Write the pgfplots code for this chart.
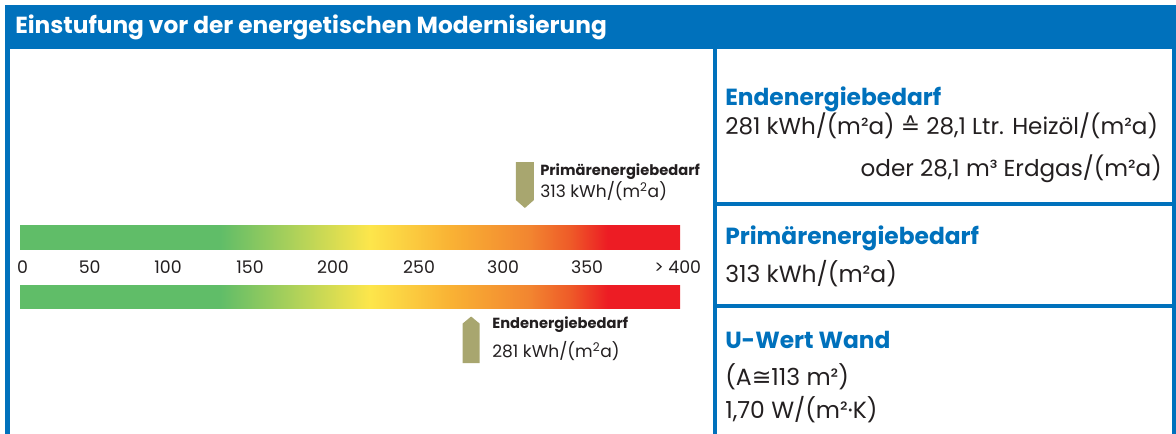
\documentclass[border=0pt]{standalone}
\usepackage{fontspec}
\usepackage{pgfplots}
\pgfplotsset{compat=1.18}
\setmainfont{Poppins}
\newfontfamily\symfont{DejaVu Sans}
\definecolor{eblue}{RGB}{0,113,188}
\definecolor{etext}{RGB}{35,31,32}
\definecolor{egreen}{RGB}{96,189,104}
\definecolor{eyellow}{RGB}{253,230,75}
\definecolor{eorangeA}{RGB}{249,178,52}
\definecolor{eorangeB}{RGB}{242,133,48}
\definecolor{eorangeC}{RGB}{238,90,40}
\definecolor{ered}{RGB}{237,28,36}
\definecolor{emark}{RGB}{168,166,111}
\pgfdeclarehorizontalshading{energy}{100bp}{color(0bp)=(egreen); color(25bp)=(egreen); color(40.15bp)=(egreen); color(51.5bp)=(eyellow); color(57.6bp)=(eorangeA); color(63.6bp)=(eorangeB); color(66.7bp)=(eorangeC); color(69.5bp)=(ered); color(75bp)=(ered); color(100bp)=(ered)}

% bar extents (scale values)
\pgfplotstableread{
x y
12.5 -48
405.4 -48
405.4 -24
12.5 -24
12.5 -48
}\upperbar
\pgfplotstableread{
x y
12.5 12
405.4 12
405.4 35
12.5 35
12.5 12
}\lowerbar

\begin{document}
\begin{tikzpicture}[x=0.75pt,y=-0.75pt]
\path[use as bounding box] (0,0) rectangle (1176,434);
% frame
\fill[eblue] (5,5) rectangle (1176,49);
\fill[eblue] (5,49) rectangle (9.5,434);
\fill[eblue] (712.5,49) rectangle (717,434);
\fill[eblue] (1172,49) rectangle (1176,434);
\fill[eblue] (717,202) rectangle (1172,206.5);
\fill[eblue] (717,303.5) rectangle (1172,308);
\node[anchor=base west, text=white, inner sep=0pt, font=\bfseries\fontsize{17.45}{20}\selectfont] at (15,33.3) {Einstufung vor der energetischen Modernisierung};

% right panel
\begin{scope}[every node/.style={inner sep=0pt}]
\node[anchor=base west, text=eblue, font=\bfseries\fontsize{17.5}{20}\selectfont] at (725,106) {Endenergiebedarf};
\node[anchor=base west, text=etext, font=\fontsize{17.3}{18}\selectfont] at (725,135) {281 kWh/(m²a) {\symfont ≙} 28,1 Ltr. Heizöl/(m²a)};
\node[anchor=base east, text=etext, font=\fontsize{17.3}{18}\selectfont] at (1162,177) {oder 28,1 m³ Erdgas/(m²a)};
\node[anchor=base west, text=eblue, font=\bfseries\fontsize{17.5}{20}\selectfont] at (725,245) {Primärenergiebedarf};
\node[anchor=base west, text=etext, font=\fontsize{17.6}{18}\selectfont] at (725,282) {313 kWh/(m²a)};
\node[anchor=base west, text=eblue, font=\bfseries\fontsize{17.5}{20}\selectfont] at (725,348) {U-Wert Wand};
\node[anchor=base west, text=etext, font=\fontsize{17.6}{18}\selectfont] at (725,385) {(A{\symfont ≅}113 m²)};
\node[anchor=base west, text=etext, font=\fontsize{17.6}{18}\selectfont] at (725,418) {1,70 W/(m²·K)};
\end{scope}

\begin{axis}[
  at={(7.125pt,-325.5pt)}, anchor=south west,
  scale only axis, width=526.9pt, height=288.75pt,
  xmin=6.25, xmax=424.4, ymin=-224, ymax=161,
  y dir=reverse,
  axis x line=middle, axis y line=none,
  axis line style={draw=none},
  xtick={14,54,100.6,149.4,198.8,250,300,350,404},
  xticklabels={0,50,100,150,200,250,300,350,> 400},
  major tick length=0pt, xtick style={draw=none},
  ytick=\empty,
  xticklabel style={anchor=base, inner sep=0pt, text=etext, font=\fontsize{13}{14}\selectfont},
  clip=false,
]
\addplot[draw=none, shading=energy, shading angle=0] table {\upperbar};
\addplot[draw=none, shading=energy, shading angle=0] table {\lowerbar};
% Primaerenergiebedarf marker (313, pointing down)
\addplot[draw=none, fill=emark] coordinates {(307.6,-111) (318.4,-111) (318.4,-73) (313,-65) (307.6,-73) (307.6,-111)};
% Endenergiebedarf marker (281, pointing up)
\addplot[draw=none, fill=emark] coordinates {(276,90) (286,90) (286,50.5) (281,43.5) (276,50.5) (276,90)};
\node[anchor=base west, inner sep=0pt, text=etext, font=\bfseries\fontsize{11}{12}\selectfont] at (axis cs:322,-98) {Primärenergiebedarf};
\node[anchor=base west, inner sep=0pt, text=etext, font=\fontsize{12.8}{14}\selectfont] at (axis cs:322,-76) {313 kWh/(m\textsuperscript{2}a)};
\node[anchor=base west, inner sep=0pt, text=etext, font=\bfseries\fontsize{11}{12}\selectfont] at (axis cs:293.5,55) {Endenergiebedarf};
\node[anchor=base west, inner sep=0pt, text=etext, font=\fontsize{12.8}{14}\selectfont] at (axis cs:293.5,84) {281 kWh/(m\textsuperscript{2}a)};
\end{axis}
\end{tikzpicture}
\end{document}
